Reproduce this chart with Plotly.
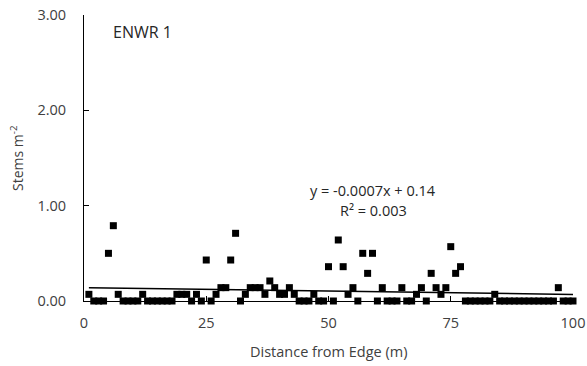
import numpy as np
import plotly.graph_objects as go

# Distance from edge (m)
distance = list(range(1, 101))
# Stems per m^2
stems = [
    0.07, 0.00, 0.00, 0.00, 0.50, 0.79, 0.07, 0.00, 0.00, 0.00,   # 1-10
    0.00, 0.07, 0.00, 0.00, 0.00, 0.00, 0.00, 0.00, 0.07, 0.07,   # 11-20
    0.07, 0.00, 0.07, 0.00, 0.43, 0.00, 0.07, 0.14, 0.14, 0.43,   # 21-30
    0.71, 0.00, 0.07, 0.14, 0.14, 0.14, 0.07, 0.21, 0.14, 0.07,   # 31-40
    0.07, 0.14, 0.07, 0.00, 0.00, 0.00, 0.07, 0.00, 0.00, 0.36,   # 41-50
    0.00, 0.64, 0.36, 0.07, 0.14, 0.00, 0.50, 0.29, 0.50, 0.00,   # 51-60
    0.14, 0.00, 0.00, 0.00, 0.14, 0.00, 0.00, 0.07, 0.14, 0.00,   # 61-70
    0.29, 0.14, 0.07, 0.14, 0.57, 0.29, 0.36, 0.00, 0.00, 0.00,   # 71-80
    0.00, 0.00, 0.00, 0.07, 0.00, 0.00, 0.00, 0.00, 0.00, 0.00,   # 81-90
    0.00, 0.00, 0.00, 0.00, 0.00, 0.00, 0.14, 0.00, 0.00, 0.00,   # 91-100
]
x_ticks = [0, 25, 50, 75, 100]
y_ticks = [0, 1, 2, 3]
title_text = "ENWR 1"
equation_text = "y = -0.0007x + 0.14"
r2_text = "R² = 0.003"

# Linear trendline fitted to the data
coef = np.polyfit(distance, stems, 1)
trend_x = [min(distance), max(distance)]
trend_y = [coef[0] * v + coef[1] for v in trend_x]

FONT = "Open Sans, Liberation Sans, sans-serif"
TXT = "#404040"

fig = go.Figure()
fig.add_trace(go.Scatter(
    x=trend_x, y=trend_y, mode="lines",
    line=dict(color="black", width=1.5),
    hoverinfo="skip", showlegend=False, cliponaxis=False,
))
fig.add_trace(go.Scatter(
    x=distance, y=stems, mode="markers",
    marker=dict(symbol="square", size=7, color="black"),
    showlegend=False, cliponaxis=False,
))

fig.update_layout(
    width=587, height=366,
    margin=dict(l=84, r=14, t=15, b=65),
    paper_bgcolor="white", plot_bgcolor="white",
    font=dict(family=FONT, size=14, color=TXT),
    xaxis=dict(
        range=[0, 100], tickvals=x_ticks, ticktext=[str(v) for v in x_ticks],
        showgrid=False, zeroline=False, showline=True, linecolor="black", linewidth=1,
        ticks="inside", ticklen=5, tickcolor="black", tickfont=dict(size=14.5, color=TXT),
        ticklabelstandoff=9, automargin=False,
    ),
    yaxis=dict(
        range=[0, 3], tickvals=y_ticks, ticktext=[f"{v:.2f}" for v in y_ticks],
        showgrid=False, zeroline=False, showline=True, linecolor="black", linewidth=1,
        ticks="inside", ticklen=5, tickcolor="black", tickfont=dict(size=14.5, color=TXT),
        ticklabelstandoff=14, automargin=False,
    ),
    annotations=[
        dict(text=title_text, xref="paper", yref="paper", x=0.055, y=0.94,
             xanchor="left", yanchor="middle", showarrow=False,
             font=dict(size=16, color="#262626")),
        dict(text=equation_text, xref="paper", yref="paper", x=0.592, y=0.388,
             xanchor="center", yanchor="middle", showarrow=False,
             font=dict(size=14.5, color="#262626")),
        dict(text=r2_text, xref="paper", yref="paper", x=0.592, y=0.315,
             xanchor="center", yanchor="middle", showarrow=False,
             font=dict(size=14.5, color="#262626")),
        dict(text="Distance from Edge (m)", xref="paper", yref="paper", x=0.5, y=-0.175,
             xanchor="center", yanchor="middle", showarrow=False,
             font=dict(size=14.5, color=TXT)),
        dict(text="Stems m<sup>-2</sup>", xref="paper", yref="paper", x=-0.137, y=0.5,
             xanchor="center", yanchor="middle", showarrow=False, textangle=-90,
             font=dict(size=14, color=TXT)),
    ],
)

# remove the page's default 8px body margin so the figure sits at (0, 0)
fig.write_html("out.html", config={"displayModeBar": False},
               post_script="document.body.style.margin='0';")
